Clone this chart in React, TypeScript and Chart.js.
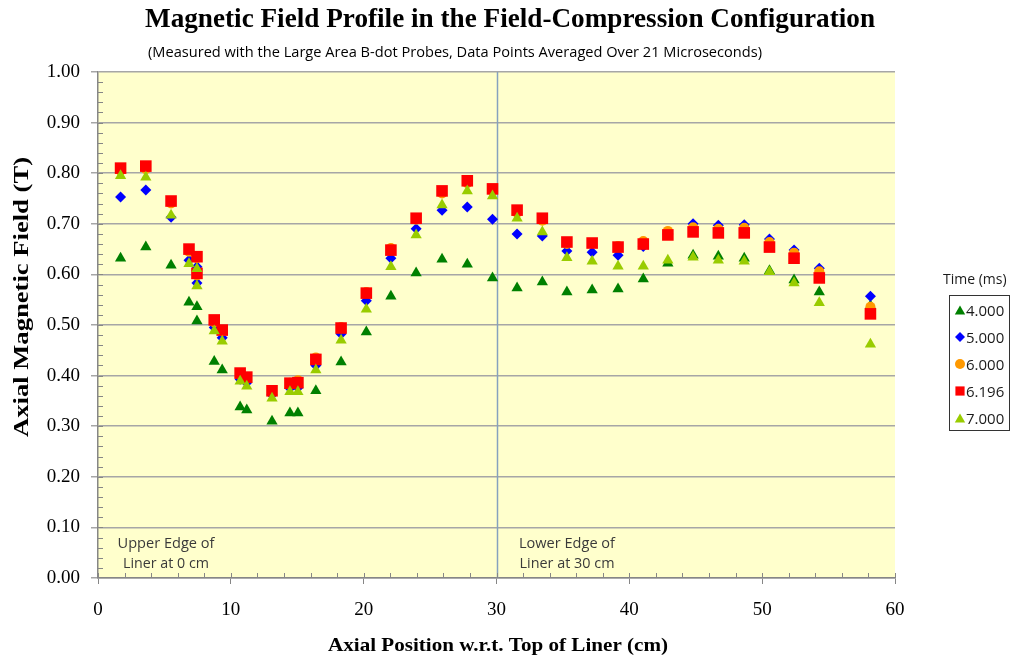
import { useEffect, useRef } from 'react';
import { Chart, registerables } from 'chart.js';

Chart.register(...registerables);

// Axial positions (cm)
const positions = [1.7, 3.6, 5.5, 6.85, 7.45, 7.45, 8.75, 9.35, 10.7, 11.2, 13.1, 14.45, 15.05, 16.4, 18.3, 20.2, 22.05, 23.95, 25.9, 27.8, 29.7, 31.55, 33.45, 35.3, 37.2, 39.15, 41.05, 42.9, 44.8, 46.7, 48.65, 50.55, 52.4, 54.3, 58.15];

// Axial magnetic field (T) per time
const field4000 = [0.632, 0.654, 0.618, 0.545, 0.536, 0.508, 0.428, 0.411, 0.338, 0.332, 0.31, 0.326, 0.326, 0.37, 0.427, 0.486, 0.557, 0.603, 0.63, 0.62, 0.593, 0.573, 0.585, 0.565, 0.569, 0.571, 0.591, 0.622, 0.638, 0.636, 0.632, 0.607, 0.589, 0.565, 0.538];
const field5000 = [0.753, 0.767, 0.713, 0.628, 0.615, 0.583, 0.495, 0.475, 0.393, 0.386, 0.362, 0.375, 0.376, 0.42, 0.482, 0.548, 0.632, 0.69, 0.727, 0.733, 0.709, 0.68, 0.676, 0.646, 0.644, 0.638, 0.655, 0.68, 0.7, 0.697, 0.698, 0.67, 0.648, 0.612, 0.557];
const field6000 = [0.805, 0.808, 0.74, 0.645, 0.632, 0.598, 0.505, 0.487, 0.402, 0.395, 0.368, 0.386, 0.391, 0.436, 0.496, 0.565, 0.652, 0.708, 0.76, 0.78, 0.765, 0.722, 0.706, 0.66, 0.662, 0.656, 0.666, 0.686, 0.693, 0.69, 0.692, 0.664, 0.643, 0.606, 0.536];
const field6196 = [0.81, 0.814, 0.745, 0.65, 0.635, 0.602, 0.51, 0.49, 0.405, 0.397, 0.37, 0.385, 0.386, 0.432, 0.494, 0.563, 0.648, 0.711, 0.765, 0.785, 0.769, 0.727, 0.711, 0.664, 0.662, 0.654, 0.66, 0.678, 0.684, 0.682, 0.682, 0.654, 0.632, 0.593, 0.522];
const field7000 = [0.795, 0.792, 0.717, 0.621, 0.611, 0.577, 0.488, 0.468, 0.389, 0.379, 0.355, 0.368, 0.368, 0.411, 0.47, 0.531, 0.615, 0.678, 0.737, 0.765, 0.755, 0.711, 0.684, 0.633, 0.626, 0.616, 0.616, 0.628, 0.634, 0.628, 0.626, 0.605, 0.583, 0.544, 0.462];

const seriesLabels = ['4.000', '5.000', '6.000', '6.196', '7.000'];
const seriesValues = [field4000, field5000, field6000, field6196, field7000];
const seriesColors = ['#008000', '#0000FF', '#FF9900', '#FF0000', '#99CC00'];
const seriesStyles = ['triangle', 'rectRot', 'circle', 'rect', 'triangle'];
const seriesRadius = [6.5, 5.5, 5, 8.2, 6.5];
const seriesOrder = [4, 3, 2, 1, 0];

const titleText = 'Magnetic Field Profile in the Field-Compression Configuration';
const subtitleText = '(Measured with the Large Area B-dot Probes, Data Points Averaged Over 21 Microseconds)';
const xTitle = 'Axial Position w.r.t. Top of Liner (cm)';
const yTitle = 'Axial Magnetic Field (T)';
const legendTitle = 'Time (ms)';
const noteUpper = ['Upper Edge of', 'Liner at 0 cm'];
const noteLower = ['Lower Edge of', 'Liner at 30 cm'];
const markerLine = 30;

function drawMarker(ctx: CanvasRenderingContext2D, style: string, x: number, y: number, r: number, color: string) {
  ctx.save();
  ctx.fillStyle = color;
  ctx.beginPath();
  if (style === 'triangle') {
    for (let k = 0; k < 3; k++) {
      const a = (k * 2 * Math.PI) / 3;
      const px = x + Math.sin(a) * r;
      const py = y - Math.cos(a) * r;
      if (k === 0) ctx.moveTo(px, py); else ctx.lineTo(px, py);
    }
    ctx.closePath();
  } else if (style === 'rectRot') {
    ctx.moveTo(x, y - r);
    ctx.lineTo(x + r, y);
    ctx.lineTo(x, y + r);
    ctx.lineTo(x - r, y);
    ctx.closePath();
  } else if (style === 'circle') {
    ctx.arc(x, y, r, 0, Math.PI * 2);
  } else {
    const s = r * Math.SQRT1_2;
    ctx.rect(x - s, y - s, 2 * s, 2 * s);
  }
  ctx.fill();
  ctx.restore();
}

// draws text centred at (cx, baseline) stretched/compressed to a target width
function stretchText(ctx: CanvasRenderingContext2D, text: string, cx: number, by: number, target: number) {
  const w = ctx.measureText(text).width;
  ctx.save();
  ctx.translate(cx, by);
  ctx.scale(target / w, 1);
  ctx.textAlign = 'center';
  ctx.fillText(text, 0, 0);
  ctx.restore();
}

const decor = {
  id: 'decor',
  beforeDraw(chart: any) {
    const { ctx, chartArea: a } = chart;
    ctx.save();
    ctx.fillStyle = '#FFFFCC';
    ctx.fillRect(a.left, a.top, a.right - a.left, a.bottom - a.top);
    ctx.restore();
  },
  beforeDatasetsDraw(chart: any) {
    const { ctx, chartArea: a, scales } = chart;
    const xs = scales.x;
    const ys = scales.y;
    ctx.save();
    // vertical reference line
    const xl = Math.round(xs.getPixelForValue(markerLine)) + 0.5;
    ctx.strokeStyle = '#86A2BE';
    ctx.lineWidth = 1.5;
    ctx.beginPath();
    ctx.moveTo(xl, a.top);
    ctx.lineTo(xl, a.bottom);
    ctx.stroke();
    // minor ticks
    ctx.strokeStyle = '#868686';
    ctx.lineWidth = 1;
    ctx.beginPath();
    for (let v = 0.02; v < 1; v += 0.02) {
      const py = Math.round(ys.getPixelForValue(v)) + 0.5;
      ctx.moveTo(a.left, py);
      ctx.lineTo(a.left + 5, py);
    }
    for (let v = 2; v < 60; v += 2) {
      if (v % 10 === 0) continue;
      const px = Math.round(xs.getPixelForValue(v)) + 0.5;
      ctx.moveTo(px, a.bottom);
      ctx.lineTo(px, a.bottom - 5);
    }
    for (let v = 0; v <= 60; v += 10) {
      const px = Math.round(xs.getPixelForValue(v)) + 0.5;
      ctx.moveTo(px, a.bottom);
      ctx.lineTo(px, a.bottom - 5);
    }
    ctx.stroke();
    // annotations
    ctx.fillStyle = '#3A3A3A';
    ctx.font = '14px "Open Sans"';
    ctx.textBaseline = 'alphabetic';
    stretchText(ctx, noteUpper[0], 166, 548, 97);
    stretchText(ctx, noteUpper[1], 166, 568, 86);
    stretchText(ctx, noteLower[0], 567, 548, 96);
    stretchText(ctx, noteLower[1], 567, 568, 95);
    ctx.restore();
  },
  afterDraw(chart: any) {
    const { ctx } = chart;
    ctx.save();
    ctx.fillStyle = '#000000';
    ctx.textBaseline = 'alphabetic';
    ctx.font = 'bold 27px "Liberation Serif"';
    stretchText(ctx, titleText, 510, 27, 730);
    ctx.font = '14px "Open Sans"';
    stretchText(ctx, subtitleText, 455, 57, 614);
    ctx.font = 'bold 19px "Liberation Serif"';
    stretchText(ctx, xTitle, 498, 651, 340);
    ctx.save();
    ctx.translate(28, 297);
    ctx.rotate(-Math.PI / 2);
    ctx.font = 'bold 20px "Liberation Serif"';
    stretchText(ctx, yTitle, 0, 0, 280);
    ctx.restore();
    // legend
    ctx.textAlign = 'left';
    ctx.fillStyle = '#1a1a1a';
    ctx.font = '14px "Open Sans"';
    ctx.fillText(legendTitle, 943, 284);
    ctx.strokeStyle = '#333333';
    ctx.lineWidth = 1;
    ctx.strokeRect(949.5, 295.5, 60, 135);
    ctx.font = '15px "Open Sans"';
    const legendR = [6, 5, 5, 6.5, 6];
    seriesLabels.forEach((lab, i) => {
      const cy = 310 + i * 27;
      const off = seriesStyles[i] === 'triangle' ? 1.5 : 0;
      drawMarker(ctx, seriesStyles[i], 960, cy + off, legendR[i], seriesColors[i]);
      ctx.fillStyle = '#1a1a1a';
      ctx.fillText(lab, 966, cy + 5.5);
    });
    ctx.restore();
  },
};

export default function App() {
  const canvasRef = useRef<HTMLCanvasElement | null>(null);

  useEffect(() => {
    document.body.style.margin = '0';
    const canvas = canvasRef.current;
    if (!canvas) return;
    const datasets = seriesLabels.map((label, i) => ({
      label,
      data: positions.map((x, j) => ({ x, y: seriesValues[i][j] })),
      pointStyle: seriesStyles[i] as any,
      pointRadius: seriesRadius[i],
      pointHoverRadius: seriesRadius[i],
      backgroundColor: seriesColors[i],
      borderColor: seriesColors[i],
      borderWidth: 0,
      showLine: false,
      order: seriesOrder[i],
    }));
    const chart = new Chart(canvas, {
      type: 'scatter',
      data: { datasets },
      options: {
        responsive: false,
        animation: false,
        events: [],
        layout: { padding: { top: 72, right: 118, left: 0, bottom: 0 } },
        plugins: {
          legend: { display: false },
          title: { display: false },
          tooltip: { enabled: false },
        },
        scales: {
          x: {
            type: 'linear',
            min: 0,
            max: 60,
            afterFit: (s: any) => { s.height = 79; },
            ticks: {
              stepSize: 10,
              color: '#000000',
              padding: 15,
              font: { family: '"Liberation Serif"', size: 19 },
            },
            grid: { drawOnChartArea: false, drawTicks: true, tickLength: 6, color: '#868686', lineWidth: 1 },
            border: { color: '#868686', width: 1.5 },
          },
          y: {
            type: 'linear',
            min: 0,
            max: 1,
            afterFit: (s: any) => { s.width = 98; },
            ticks: {
              stepSize: 0.1,
              color: '#000000',
              padding: 11,
              font: { family: '"Liberation Serif"', size: 19 },
              callback: (v: any) => Number(v).toFixed(2),
            },
            grid: { color: '#A6A6A6', lineWidth: 1.5, tickLength: 7 },
            border: { color: '#868686', width: 1.5 },
          },
        },
      },
      plugins: [decor],
    });
    return () => chart.destroy();
  }, []);

  return (
    <div style={{ width: 1013, height: 657, background: '#ffffff' }}>
      <canvas ref={canvasRef} width={1013} height={657} style={{ display: 'block' }} />
    </div>
  );
}
